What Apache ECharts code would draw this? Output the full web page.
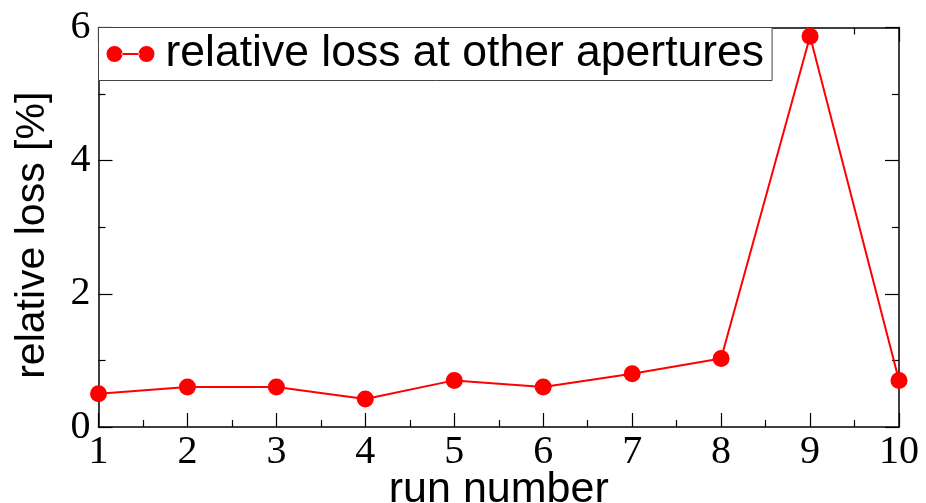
<!DOCTYPE html>
<html>
<head>
<meta charset="utf-8">
<script src="https://cdn.jsdelivr.net/npm/echarts@6/dist/echarts.min.js"></script>
<style>
  html, body { margin: 0; padding: 0; background: #fff; }
  #chart { width: 926px; height: 503px; }
</style>
</head>
<body>
<div id="chart"></div>
<script>
// Relative loss per run
const runNumbers = [1, 2, 3, 4, 5, 6, 7, 8, 9, 10];
const relativeLoss = [0.5, 0.6, 0.6, 0.42, 0.7, 0.6, 0.8, 1.03, 5.87, 0.7];
const seriesName = 'relative loss at other apertures';
const xAxisName = 'run number';
const yAxisName = 'relative loss [%]';

const points = runNumbers.map((r, i) => [r, relativeLoss[i]]);

const frameLine = { show: true, onZero: false, lineStyle: { color: '#000', width: 1.5 } };
const majorTick = { show: true, inside: true, length: 14, lineStyle: { color: '#000', width: 1.2 } };
const minorTick = { show: true, splitNumber: 2, length: 7, lineStyle: { color: '#000', width: 1.2 } };
const serifLabel = { fontFamily: 'Liberation Serif', fontSize: 40, color: '#000' };

// Two-dot legend glyph: circle, bar, circle
const legendGlyph = 'path://M0,8 a8,8 0 1,0 16,0 a8,8 0 1,0 -16,0 Z M15,7 L33,7 L33,9 L15,9 Z M32,8 a8,8 0 1,0 16,0 a8,8 0 1,0 -16,0 Z';

const chart = echarts.init(document.getElementById('chart'), null, { renderer: 'canvas' });
chart.setOption({
  animation: false,
  backgroundColor: '#fff',
  grid: { left: 98.5, right: 27, top: 27.5, bottom: 76, containLabel: false, outerBoundsMode: 'none' },
  legend: {
    show: true,
    left: 98.5,
    top: 27.5,
    orient: 'horizontal',
    backgroundColor: '#fff',
    borderColor: '#444',
    borderWidth: 1,
    padding: [4, 8, 4, 8],
    itemWidth: 48,
    itemHeight: 16,
    icon: legendGlyph,
    itemStyle: { color: '#ff0000', borderWidth: 0 },
    textStyle: { fontFamily: 'Liberation Sans', fontSize: 44.5, color: '#000', padding: [0, 0, 0, 6], lineHeight: 44 },
    data: [seriesName]
  },
  xAxis: [
    {
      type: 'value', position: 'bottom', min: 1, max: 10, interval: 1,
      axisLine: frameLine, axisTick: majorTick, minorTick: minorTick,
      splitLine: { show: false },
      axisLabel: Object.assign({ margin: 5 }, serifLabel),
      name: xAxisName, nameLocation: 'middle', nameGap: 42, nameMoveOverlap: false,
      nameTextStyle: { fontFamily: 'Liberation Sans', fontSize: 43, color: '#000' }
    },
    {
      type: 'value', position: 'top', min: 1, max: 10, interval: 1,
      axisLine: frameLine, axisTick: majorTick, minorTick: minorTick,
      splitLine: { show: false }, axisLabel: { show: false }
    }
  ],
  yAxis: [
    {
      type: 'value', position: 'left', min: 0, max: 6, interval: 2,
      axisLine: frameLine, axisTick: majorTick, minorTick: minorTick,
      splitLine: { show: false },
      axisLabel: Object.assign({ margin: 8 }, serifLabel),
      name: yAxisName, nameLocation: 'middle', nameGap: 45, nameMoveOverlap: false,
      nameTextStyle: { fontFamily: 'Liberation Sans', fontSize: 41, color: '#000', padding: [0, 16, 0, 0] }
    },
    {
      type: 'value', position: 'right', min: 0, max: 6, interval: 2,
      axisLine: frameLine, axisTick: majorTick, minorTick: minorTick,
      splitLine: { show: false }, axisLabel: { show: false }
    }
  ],
  series: [
    {
      name: seriesName,
      type: 'line',
      xAxisIndex: 0,
      yAxisIndex: 0,
      data: points,
      symbol: 'circle',
      symbolSize: 17,
      clip: false,
      itemStyle: { color: '#ff0000' },
      lineStyle: { color: '#ff0000', width: 2 },
      z: 3
    }
  ]
});
</script>
</body>
</html>
